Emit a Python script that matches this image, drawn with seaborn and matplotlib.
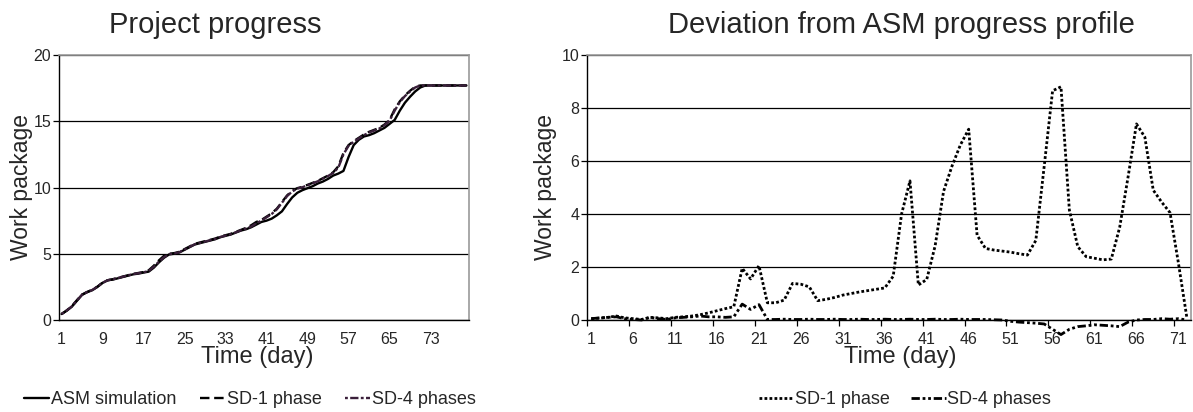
import matplotlib
matplotlib.use("Agg")
import matplotlib.pyplot as plt
from matplotlib.lines import Line2D
import numpy as np
import pandas as pd
import seaborn as sns

# ---------------- data ----------------
progress_days = list(range(1, 81))
asm_simulation = [0.45, 0.7, 1.0, 1.45, 1.9, 2.1, 2.25, 2.5, 2.8, 3.0,
                  3.05, 3.15, 3.25, 3.35, 3.45, 3.5, 3.58, 3.65, 3.95, 4.35,
                  4.7, 4.95, 5.0, 5.1, 5.3, 5.5, 5.7, 5.8, 5.9, 6.0,
                  6.1, 6.25, 6.35, 6.45, 6.6, 6.75, 6.85, 7.0, 7.2, 7.4,
                  7.5, 7.65, 7.9, 8.2, 8.75, 9.25, 9.6, 9.8, 9.95, 10.1,
                  10.3, 10.45, 10.65, 10.9, 11.05, 11.25, 12.3, 13.2, 13.6, 13.85,
                  13.95, 14.1, 14.3, 14.5, 14.8, 15.1, 15.8, 16.4, 16.85, 17.25,
                  17.55, 17.7, 17.7, 17.7, 17.7, 17.7, 17.7, 17.7, 17.7, 17.7]
sd1_phase = [0.45, 0.72, 1.05, 1.5, 1.92, 2.12, 2.28, 2.52, 2.82, 3.0,
             3.08, 3.18, 3.28, 3.38, 3.48, 3.55, 3.62, 3.75, 4.1, 4.5,
             4.85, 5.0, 5.05, 5.15, 5.35, 5.55, 5.75, 5.85, 5.95, 6.05,
             6.15, 6.3, 6.4, 6.5, 6.65, 6.8, 6.95, 7.15, 7.4, 7.55,
             7.8, 8.05, 8.4, 8.9, 9.4, 9.75, 9.95, 10.05, 10.2, 10.35,
             10.5, 10.7, 10.9, 11.15, 11.6, 12.6, 13.2, 13.5, 13.75, 14.0,
             14.2, 14.35, 14.5, 14.75, 15.1, 15.9, 16.5, 16.95, 17.3, 17.6,
             17.7, 17.7, 17.7, 17.7, 17.7, 17.7, 17.7, 17.7, 17.7, 17.7]
sd4_phases = [0.45, 0.72, 1.03, 1.48, 1.91, 2.11, 2.27, 2.51, 2.81, 3.0,
              3.07, 3.17, 3.27, 3.37, 3.47, 3.53, 3.6, 3.7, 4.02, 4.4,
              4.75, 4.97, 5.02, 5.12, 5.32, 5.52, 5.72, 5.82, 5.92, 6.02,
              6.12, 6.27, 6.37, 6.47, 6.62, 6.77, 6.9, 7.05, 7.3, 7.5,
              7.75, 8.0, 8.35, 8.85, 9.35, 9.7, 9.92, 10.02, 10.17, 10.32,
              10.47, 10.67, 10.87, 11.1, 11.5, 12.5, 13.15, 13.45, 13.7, 13.95,
              14.15, 14.3, 14.45, 14.7, 15.05, 15.8, 16.45, 16.9, 17.25, 17.55,
              17.7, 17.7, 17.7, 17.7, 17.7, 17.7, 17.7, 17.7, 17.7, 17.7]

deviation_days = list(range(1, 73))
dev_sd1_phase = [0.05, 0.07, 0.1, 0.15, 0.08, 0.05, 0.02, 0.1, 0.08, 0.05,
                 0.1, 0.12, 0.15, 0.2, 0.27, 0.35, 0.43, 0.5, 1.95, 1.55,
                 2.05, 0.65, 0.65, 0.75, 1.38, 1.35, 1.25, 0.73, 0.78, 0.85,
                 0.94, 1.0, 1.06, 1.11, 1.16, 1.21, 1.65, 4.0, 5.25, 1.32,
                 1.53, 2.8, 4.85, 5.8, 6.6, 7.2, 3.2, 2.7, 2.64, 2.6,
                 2.56, 2.5, 2.45, 3.0, 5.8, 8.65, 8.8, 4.15, 2.77, 2.39,
                 2.33, 2.27, 2.3, 3.5, 5.4, 7.4, 6.9, 4.9, 4.45, 4.05,
                 2.15, 0.1]
dev_sd4_phases = [0.05, 0.08, 0.1, 0.12, 0.05, 0.02, 0.0, 0.1, 0.05, 0.02,
                  0.08, 0.1, 0.12, 0.15, 0.12, 0.12, 0.1, 0.12, 0.6, 0.4,
                  0.58, 0.02, 0.02, 0.03, 0.02, 0.02, 0.03, 0.02, 0.02, 0.03,
                  0.02, 0.02, 0.03, 0.02, 0.02, 0.03, 0.02, 0.02, 0.03, 0.02,
                  0.02, 0.03, 0.02, 0.02, 0.03, 0.02, 0.02, 0.02, 0.01, 0.0,
                  -0.05, -0.08, -0.1, -0.12, -0.15, -0.35, -0.55, -0.35, -0.25, -0.22,
                  -0.18, -0.2, -0.22, -0.25, -0.08, 0.0, 0.02, 0.02, 0.05, 0.03,
                  0.05, 0.0]

progress_labels = ["ASM simulation", "SD-1 phase", "SD-4 phases"]
deviation_labels = ["SD-1 phase", "SD-4 phases"]

# ---------------- style ----------------
sns.set_style("white")
plt.rcParams["font.family"] = ["Liberation Sans", "DejaVu Sans"]

W, H = 1193, 412
fig = plt.figure(figsize=(W / 100, H / 100), dpi=100)
ax1 = fig.add_axes([59 / W, 92 / H, 410 / W, 265 / H])
ax2 = fig.add_axes([587 / W, 92 / H, 604 / W, 265 / H])

# ---------------- left chart ----------------
df1 = pd.DataFrame({
    "day": progress_days * 3,
    "value": asm_simulation + sd1_phase + sd4_phases,
    "series": sum([[s] * len(progress_days) for s in progress_labels], []),
})
pal1 = {"ASM simulation": "black", "SD-1 phase": "black", "SD-4 phases": "#3a1f3a"}
dash1 = {"ASM simulation": "", "SD-1 phase": (4, 2), "SD-4 phases": (1.2, 1, 3.5, 1)}
sns.lineplot(data=df1, x="day", y="value", hue="series", style="series",
             palette=pal1, dashes=dash1, hue_order=progress_labels,
             style_order=progress_labels, linewidth=1.7, ax=ax1, legend=False)

ax1.set_xlim(0.5, 80.5)
ax1.set_ylim(0, 20)
ax1.set_yticks([0, 5, 10, 15, 20])
ax1.set_xticks(list(range(1, 81, 8)))

# ---------------- right chart ----------------
df2 = pd.DataFrame({
    "day": deviation_days * 2,
    "value": dev_sd1_phase + dev_sd4_phases,
    "series": sum([[s] * len(deviation_days) for s in deviation_labels], []),
})
pal2 = {"SD-1 phase": "black", "SD-4 phases": "black"}
dash2 = {"SD-1 phase": (1, 0.8), "SD-4 phases": (3, 1, 1, 1, 1, 1)}
sns.lineplot(data=df2, x="day", y="value", hue="series", style="series",
             palette=pal2, dashes=dash2, hue_order=deviation_labels,
             style_order=deviation_labels, linewidth=2.0, ax=ax2, legend=False)
for ln in ax2.lines:
    ln.set_clip_on(False)

ax2.set_xlim(0.5, 72.5)
ax2.set_ylim(0, 10)
ax2.set_yticks([0, 2, 4, 6, 8, 10])
ax2.set_xticks(list(range(1, 73, 5)))
ax2.set_xticks([0.5 + 5 * k for k in range(15)], minor=True)

# ---------------- common styling ----------------
for ax in (ax1, ax2):
    ax.yaxis.grid(True, color="black", linewidth=0.9)
    ax.xaxis.grid(False)
    ax.set_axisbelow(True)
    for side in ("left", "bottom"):
        ax.spines[side].set_color("black")
        ax.spines[side].set_linewidth(1.0)
    for side in ("top", "right"):
        ax.spines[side].set_color("#9a9a9a")
        ax.spines[side].set_linewidth(1.2)
    ax.tick_params(axis="y", which="major", direction="out", length=4, width=0.9,
                   color="black", left=True, labelsize=11.5, pad=1.5)
    ax.tick_params(axis="x", which="major", length=0, labelsize=11.5, pad=9)
    ax.tick_params(axis="x", which="minor", direction="out", length=4, width=0.9,
                   color="black", bottom=True)
    ax.set_ylabel("Work package", fontsize=16.5)
    ax.set_xlabel("Time (day)", fontsize=17)

ax1.yaxis.set_label_coords(-0.063, 0.5)
ax2.yaxis.set_label_coords(-0.05, 0.5)
ax1.xaxis.set_label_coords(0.483, -0.098)
ax2.xaxis.set_label_coords(0.518, -0.098)

ax1.set_title("Project progress", fontsize=21, x=0.38, y=1.05)
ax2.set_title("Deviation from ASM progress profile", fontsize=21, x=0.52, y=1.05)

# ---------------- legends ----------------
h1 = [Line2D([], [], color=pal1[s], linewidth=1.7,
             linestyle=(0, dash1[s]) if dash1[s] else "-") for s in progress_labels]
fig.legend(h1, progress_labels, loc="center", bbox_to_anchor=(250 / W, 1 - 400 / H),
           ncol=3, frameon=False, fontsize=13, handlelength=1.4, handletextpad=0.1,
           columnspacing=1.3, borderpad=0)
h2 = [Line2D([], [], color="black", linewidth=2.0, linestyle=(0, dash2[s]))
      for s in deviation_labels]
fig.legend(h2, deviation_labels, loc="center", bbox_to_anchor=(905 / W, 1 - 400 / H),
           ncol=2, frameon=False, fontsize=13, handlelength=1.9, handletextpad=0.1,
           columnspacing=1.2, borderpad=0)

fig.savefig("out.png", dpi=100)
